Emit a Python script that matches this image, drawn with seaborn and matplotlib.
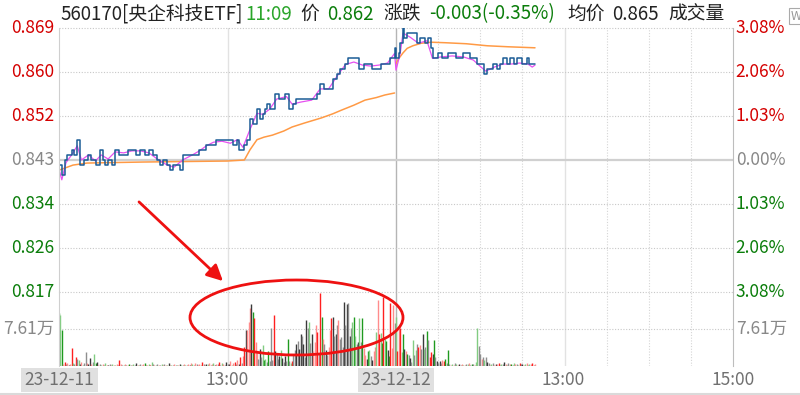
"""
Intraday chart: 560170 [央企科技ETF], two sessions, price / avg / volume
"""

import seaborn as sns
import matplotlib.pyplot as plt
import pandas as pd
from matplotlib.patches import Ellipse, FancyArrowPatch
from matplotlib.lines import Line2D

sns.set_style('white')
plt.rcParams['font.family'] = ['Noto Sans CJK SC', 'DejaVu Sans']

# Data (minute index: 0-239 = 23-12-11, 240-479 = 23-12-12)

price_min = [0, 2, 4, 6, 9, 11, 13, 15, 18, 21, 23, 26, 29, 31, 33, 35, 38, 40, 42, 43,
             46, 49, 53, 55, 58, 61, 64, 67, 70, 72, 74, 77, 79, 81, 84, 86, 88, 91, 95, 98,
             100, 103, 105, 109, 112, 116, 120, 124, 127, 128, 130, 132, 134, 136, 138, 141,
             143, 145, 147, 148, 150, 154, 157, 161, 164, 167, 169, 174, 177, 181, 184, 186,
             189, 192, 195, 198, 200, 204, 206, 209, 212, 214, 217, 219, 223, 226, 229, 231,
             234, 236, 239, 240, 242, 243, 245, 246, 248, 252, 255, 257, 259, 261, 263, 265,
             266, 270, 273, 277, 281, 283, 286, 288, 291, 293, 296, 298, 301, 303, 305, 307,
             309, 312, 314, 316, 319, 321, 324, 326, 328, 330, 333, 335, 337, 339]
price_val = [0.842, 0.840, 0.843, 0.844, 0.845, 0.844, 0.847, 0.842, 0.843, 0.844, 0.843, 0.842,
             0.845, 0.843, 0.842, 0.843, 0.842, 0.845, 0.845, 0.844, 0.844, 0.845, 0.845, 0.844,
             0.845, 0.844, 0.845, 0.844, 0.843, 0.842, 0.843, 0.842, 0.841, 0.842, 0.842, 0.841,
             0.844, 0.844, 0.844, 0.844, 0.845, 0.845, 0.846, 0.846, 0.847, 0.847, 0.847, 0.846,
             0.847, 0.845, 0.845, 0.846, 0.847, 0.851, 0.850, 0.853, 0.851, 0.852, 0.853, 0.854,
             0.853, 0.856, 0.855, 0.856, 0.853, 0.854, 0.855, 0.855, 0.855, 0.855, 0.856, 0.858,
             0.857, 0.857, 0.859, 0.860, 0.861, 0.862, 0.863, 0.863, 0.863, 0.861, 0.862, 0.862,
             0.861, 0.861, 0.862, 0.862, 0.862, 0.863, 0.865, 0.863, 0.864, 0.866, 0.869, 0.867,
             0.868, 0.868, 0.866, 0.867, 0.867, 0.866, 0.867, 0.865, 0.863, 0.864, 0.863, 0.864,
             0.864, 0.863, 0.863, 0.864, 0.864, 0.863, 0.863, 0.862, 0.862, 0.860, 0.861, 0.861,
             0.862, 0.861, 0.862, 0.863, 0.862, 0.863, 0.862, 0.863, 0.863, 0.862, 0.863, 0.862,
             0.862, 0.862]

ma_min = [0, 2, 5, 9, 13, 16, 21, 26, 30, 35, 40, 46, 52, 58, 64, 70, 77, 82, 88, 95, 100,
          105, 110, 116, 122, 127, 131, 136, 141, 145, 150, 155, 162, 166, 172, 180, 186, 192,
          198, 204, 210, 216, 222, 228, 234, 239, 240, 243, 245, 250, 256, 262, 266, 272, 280,
          288, 295, 301, 304, 310, 316, 322, 328, 334, 337, 339]
ma_val = [0.8412, 0.8391, 0.8425, 0.8440, 0.8458, 0.8430, 0.8440, 0.8428, 0.8440, 0.8432,
          0.8446, 0.8444, 0.8448, 0.8448, 0.8444, 0.8432, 0.8420, 0.8416, 0.8430, 0.8440,
          0.8448, 0.8458, 0.8465, 0.8467, 0.8463, 0.8470, 0.8455, 0.8490, 0.8522, 0.8520,
          0.8530, 0.8550, 0.8555, 0.8540, 0.8544, 0.8548, 0.8570, 0.8570, 0.8595, 0.8618,
          0.8623, 0.8617, 0.8615, 0.8617, 0.8621, 0.8640, 0.8607, 0.8640, 0.8680, 0.8672,
          0.8660, 0.8665, 0.8630, 0.8633, 0.8635, 0.8633, 0.8627, 0.8612, 0.8605, 0.8613,
          0.8619, 0.8619, 0.8621, 0.8619, 0.8613, 0.8617]

avg1_min = [0, 4, 10, 20, 60, 120, 132, 136, 141, 146, 152, 160, 166, 175, 187, 195, 201,
            210, 218, 226, 232, 239]
avg1_val = [0.8410, 0.8414, 0.8420, 0.8424, 0.8426, 0.8428, 0.8430, 0.8450, 0.8470, 0.8475,
            0.8479, 0.8487, 0.8495, 0.8503, 0.8513, 0.8521, 0.8528, 0.8538, 0.8548, 0.8553,
            0.8558, 0.8562]
avg2_min = [240, 242, 245, 248, 252, 258, 265, 275, 290, 305, 320, 339]
avg2_val = [0.8620, 0.8630, 0.8641, 0.8650, 0.8655, 0.8660, 0.8662, 0.8661, 0.8659, 0.8655,
            0.8653, 0.8651]

# volume in 万, one bar per minute, colour codes: R/r red, G/g green, D/d grey
vol_day1 = [10.9, 10.5, 7.4, 0.5, 0.8, 0.4, 0.6, 0.3, 0.5, 3.7, 0.6, 0.4, 1.8, 1.5, 1.2, 0.5, 0.9, 0.3, 0.6, 2.9,
            0.7, 0.5, 1.6, 0.4, 0.8, 2.5, 0.6, 0.8, 0.3, 0.5, 0.2, 0.4, 0.3, 0.6, 0.3, 0.2, 0.5, 0.3, 0.4, 0.3,
            0.2, 0.4, 0.3, 1.3, 0.5, 0.3, 0.2, 0.4, 0.3, 0.2, 0.5, 0.3, 0.2, 0.4, 0.3, 0.6, 0.3, 0.2, 0.4, 0.3,
            0.4, 0.7, 0.3, 0.2, 0.5, 0.3, 0.8, 0.4, 0.3, 0.2, 0.4, 0.3, 0.2, 0.5, 0.3, 0.4, 0.2, 0.3, 0.6, 0.3,
            0.3, 0.2, 0.4, 0.3, 0.2, 0.3, 0.4, 0.2, 0.3, 0.5, 0.3, 0.2, 0.4, 0.3, 0.6, 0.4, 0.3, 0.7, 0.4, 0.3,
            0.5, 0.3, 0.8, 0.4, 0.3, 0.5, 0.4, 0.6, 0.3, 0.4, 0.7, 0.3, 0.5, 0.4, 0.9, 0.3, 0.6, 0.4, 0.3, 0.8,
            0.5, 0.4, 1.0, 0.3, 0.6, 0.9, 0.4, 1.2, 0.5, 1.8, 0.6, 2.0, 3.9, 7.4, 7.4, 9.0, 11.9, 12.8, 11.1, 9.9,
            4.9, 3.1, 1.5, 3.5, 1.9, 4.3, 1.2, 1.5, 0.9, 3.1, 1.0, 7.8, 1.2, 10.5, 3.0, 2.5, 1.4, 2.0, 3.3, 1.6,
            0.9, 2.0, 1.0, 5.6, 1.0, 0.7, 1.0, 2.5, 3.3, 4.5, 5.1, 3.5, 6.6, 6.2, 4.5, 1.8, 9.5, 7.8, 9.1, 4.7,
            6.6, 3.1, 5.0, 8.5, 7.0, 2.5, 15.0, 10.1, 5.6, 4.5, 3.3, 2.2, 4.0, 7.4, 9.9, 10.1, 6.2, 6.6, 8.5, 9.4,
            5.6, 6.0, 4.0, 13.2, 8.5, 12.8, 12.9, 6.2, 7.8, 9.1, 10.1, 6.2, 4.5, 5.0, 9.9, 5.0, 9.9, 3.8, 2.2, 1.5,
            3.1, 3.3, 2.0, 1.2, 3.0, 4.0, 7.0, 13.6, 6.6, 6.8, 4.7, 14.2, 5.5, 5.2, 3.2, 2.0, 13.0, 3.8, 12.5, 8.8]
col_day1 = ("GgGrRdrDrRgdRdgDrgdd" "rDDrdgGDrdgrdgrDdrgr" "grdRrdgrdrGdrgdDrgdr"
            "rGdrgRgdrgdrdgrdrgDr" "gdrdgrDgdrgdrDrgdrdr" "rgRdrDgrdrgDrdRdgrdD"
            "dDrgrRdrDRdrRDrrrDGR" "rrdDdgGgdGdddRDddDgD" "dDdGdgRddDdDDdDdDdgd"
            "DrrrRdRGrdDdrrRDdDdr" "dddDdDdDdgGgdDgdGrrD" "GgdDrrgrRgGRgGDGRrrd")
vol_day2 = [10.1, 3.1, 7.8, 7.8, 2.8, 6.6, 3.5, 3.0, 2.5, 2.2, 1.6, 0.8, 5.4, 2.3, 3.3, 4.5, 4.0, 4.3, 3.5, 6.6,
            3.4, 4.0, 7.2, 5.3, 1.8, 2.8, 2.5, 5.3, 1.8, 1.0, 0.7, 1.0, 0.7, 1.3, 1.0, 1.5, 0.6, 3.3, 0.5, 0.3,
            0.4, 0.3, 0.6, 0.4, 0.3, 0.5, 0.3, 0.4, 0.2, 0.3, 0.5, 0.4, 0.6, 0.3, 0.4, 0.5, 0.3, 0.8, 7.8, 4.1,
            2.5, 1.5, 1.8, 1.2, 1.8, 0.9, 0.6, 0.3, 0.4, 0.6, 0.3, 0.5, 0.4, 0.6, 0.3, 0.4, 0.5, 0.8, 0.4, 0.3,
            0.6, 0.4, 0.5, 0.3, 0.6, 0.4, 0.5, 0.3, 0.6, 0.4, 0.5, 0.3, 0.4, 0.7, 0.3, 0.5, 0.4, 0.6, 0.3, 0.4]
col_day2 = ("gRrRgGDrGdDdgdgdRrdD" "gdGdRRDGdDdDdrRGdGdr" "grdgrDdrgrdgrdGdrggd"
            "drdgdDdrgdrDrRdgdDrg" "drGdgrdgRdDrgrdgrRdr")

price_ticks = [0.869, 0.86033, 0.85167, 0.843, 0.83433, 0.82567, 0.817]
price_labels = ['0.869', '0.860', '0.852', '0.843', '0.834', '0.826', '0.817']
pct_labels = ['3.08%', '2.06%', '1.03%', '0.00%', '1.03%', '2.06%', '3.08%']
vol_tick = 7.61
vol_label = '7.61万'
vol_max = 15.22

RED, GREEN, GREY = '#d40000', '#0a7d0a', '#888888'
tick_colors = [RED, RED, RED, GREY, GREEN, GREEN, GREEN]
bar_colors = {'R': '#ff2020', 'r': '#ff8c8c', 'G': '#1f9a1f', 'g': '#82cc82',
              'D': '#3a3a3a', 'd': '#8e8e8e'}

df_vol = pd.DataFrame({'minute': range(len(vol_day1) + len(vol_day2)),
                       'vol': vol_day1 + vol_day2,
                       'code': list(col_day1 + col_day2)})

# Figure layout in pixels of an 800x395 canvas


def fx(px):
    return px / 800


def fy(py):
    return 1 - py / 395


fig = plt.figure(figsize=(8, 3.95), dpi=100)
ax = fig.add_axes([fx(59), fy(292), fx(733) - fx(59), fy(28) - fy(292)])
axv = fig.add_axes([fx(59), fy(366), fx(733) - fx(59), fy(292) - fy(366)])

for a in (ax, axv):
    a.set_xlim(0, 480)
    a.set_xticks([])
    a.set_yticks([])
    for s in ('top', 'bottom'):
        a.spines[s].set_visible(False)
    a.spines['left'].set_color('#cfcfcf')
    a.spines['right'].set_color('#bdbdbd')
    a.patch.set_alpha(0)
    # vertical grid
    a.axvline(120, color='#e2e2e2', lw=1, zorder=0)
    a.axvline(240, color='#b5b5b5', lw=1, zorder=0)
    a.axvline(360, color='#e2e2e2', lw=1, zorder=0)
    for m in (270, 300, 330, 390, 420, 450):
        a.axvline(m, color='#d5d5d5', lw=0.8, ls=(0, (1, 1.5)), zorder=0)

ax.set_ylim(0.817, 0.869)
axv.set_ylim(0, vol_max)

# horizontal grid + labels
for val, lab, pct, c in zip(price_ticks, price_labels, pct_labels, tick_colors):
    if lab == '0.843':
        ax.axhline(val, color='#d0d0d0', lw=1.6, zorder=0)
    else:
        ax.axhline(val, color='#c8c8c8', lw=0.8, ls=(0, (1, 1.5)), zorder=0, clip_on=False)
    ax.text(-0.007, val, lab, transform=ax.get_yaxis_transform(), ha='right', va='center',
            color=c, fontsize=12.5)
    ax.text(1.004, val, pct, transform=ax.get_yaxis_transform(), ha='left', va='center',
            color=c, fontsize=12.5)

axv.axhline(vol_tick, color='#c8c8c8', lw=0.8, ls=(0, (1, 1.5)), zorder=0)
axv.text(-0.007, vol_tick, vol_label, transform=axv.get_yaxis_transform(), ha='right',
         va='center', color=GREY, fontsize=12.5)
axv.text(1.004, vol_tick, vol_label, transform=axv.get_yaxis_transform(), ha='left',
         va='center', color=GREY, fontsize=12.5)

# price lines
sns.lineplot(x=avg1_min, y=avg1_val, ax=ax, color='#ff9a45', lw=1.1, estimator=None, sort=False)
sns.lineplot(x=avg2_min, y=avg2_val, ax=ax, color='#ff9a45', lw=1.1, estimator=None, sort=False)
sns.lineplot(x=ma_min, y=ma_val, ax=ax, color='#e650f0', lw=0.9, estimator=None, sort=False)
sns.lineplot(x=price_min, y=price_val, ax=ax, color='#1b5c96', lw=1.1, estimator=None,
             sort=False, drawstyle='steps-post')

# volume bars
axv.vlines(df_vol['minute'], 0, df_vol['vol'],
           colors=[bar_colors[c] for c in df_vol['code']], lw=1.0)

# header
header = [(60, '560170[央企科技ETF]', '#222222'), (245, '11:09', '#2aa52a'),
          (300, '价', '#222222'), (327, '0.862', GREEN), (383, '涨跌', '#222222'),
          (429, '-0.003(-0.35%)', GREEN), (567, '均价', '#222222'), (612, '0.865', '#222222'),
          (668, '成交量', '#222222')]
for px, txt, c in header:
    fig.text(fx(px), fy(14), txt, color=c, fontsize=13.5, ha='left', va='center')

# small icon at top right (cut by the edge, as in the screenshot)
fig.text(fx(791), fy(16), 'W', fontsize=9, color='#999999', ha='left', va='center',
         bbox=dict(boxstyle='square,pad=0.15', fc='white', ec='#aaaaaa', lw=0.8))

# time axis labels
for px, txt, box in [(59.5, '23-12-11', True), (227, '13:00', False), (396, '23-12-12', True),
                     (563, '13:00', False), (733, '15:00', False)]:
    kw = dict(boxstyle='square,pad=0.2', fc='#e0e0e0', ec='none') if box else None
    fig.text(fx(px), fy(380), txt, color='#707070', fontsize=12.5, ha='center', va='center',
             bbox=kw)

fig.add_artist(Line2D([0, 1], [fy(393.5), fy(393.5)], transform=fig.transFigure,
                      color='#dadada', lw=1.5))

# red annotation
fig.add_artist(Ellipse((fx(296.5), fy(317.5)), 213 / 800, 75 / 395, transform=fig.transFigure,
                       fill=False, ec='#ee1111', lw=2))
fig.add_artist(FancyArrowPatch((fx(137), fy(200)), (fx(225), fy(283)), transform=fig.transFigure,
                               arrowstyle='-|>', mutation_scale=24, color='#ee1111', lw=2.0))

plt.savefig('out.png', dpi=100)
